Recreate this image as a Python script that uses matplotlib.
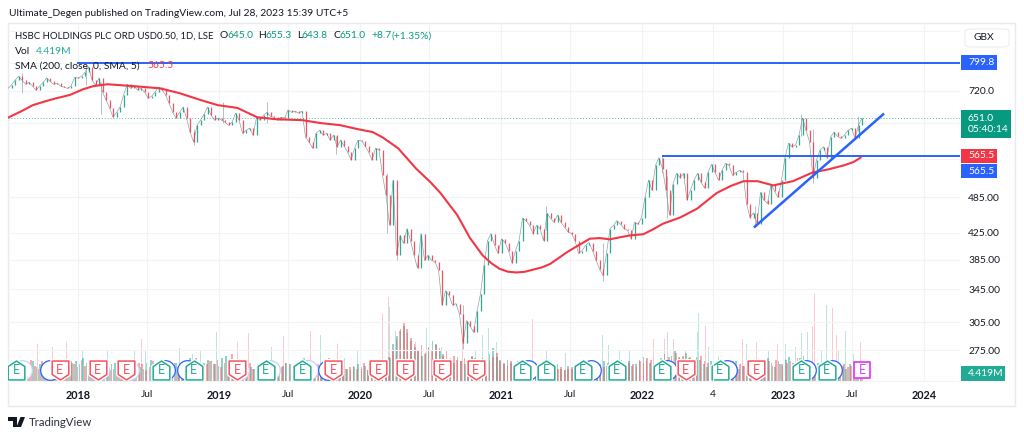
import numpy as np
import matplotlib
matplotlib.use('Agg')
from matplotlib import pyplot as plt
from matplotlib.path import Path
from matplotlib.patches import Rectangle, Polygon, FancyBboxPatch

plt.rcParams['font.family'] = ['Lato', 'DejaVu Sans']

# closes, pence, roughly every 3.5 px
closes = [727, 736, 749, 760, 749, 738, 743, 733, 722, 733, 743, 755, 746, 738, 741, 733, 730, 727, 733, 757, 755, 760, 772, 788, 749, 736, 755,
          717, 696, 676, 653, 665, 678, 709, 738, 727, 733, 722, 727, 717, 701, 706, 717, 730, 722, 709, 688, 665, 651, 665, 678, 651, 618, 596, 634,
          646, 660, 678, 658, 646, 651, 646, 641, 634, 641, 663, 646, 615, 622, 627, 611, 653, 646, 658, 665, 655, 653, 646, 653, 651, 671, 665, 668,
          663, 668, 606, 596, 582, 615, 622, 611, 615, 600, 611, 585, 600,
          587, 574, 557, 582, 600, 598, 587, 574, 557, 582, 578, 526, 489, 437, 517, 391, 421, 409, 432, 413, 391, 373, 424, 384, 391, 384, 381, 370,
          325, 343, 337, 325, 327, 314, 282, 307, 301, 294, 318, 339, 377, 413, 424, 406, 394, 416, 410, 398, 380, 398, 413, 449, 445, 437, 424, 437,
          432, 413, 457, 449, 442, 454, 442, 434, 427, 424, 413, 394, 398, 406, 410, 398, 384, 372, 363, 394, 432, 437, 445, 439, 432, 429, 416, 442,
          439, 450, 485, 517, 498, 546, 562, 539, 498, 454, 510, 530, 522, 530, 480, 498, 517, 530, 513, 502, 532, 548, 532, 517, 536, 550, 546, 526,
          532, 536, 532, 474, 450, 458, 440, 494, 480, 474, 510, 496, 485, 517, 562, 593, 585, 589, 611, 651, 622, 596, 522, 557, 578, 585, 562, 606,
          618, 608, 604, 611, 622, 627, 604, 634, 651]
close_dates = np.linspace(2017.504, 2023.56, len(closes))

wick_dates = [2017.60, 2018.06, 2018.16, 2018.82, 2019.03, 2019.34, 2019.83, 2020.19, 2020.26, 2020.73, 2021.32, 2021.72, 2022.14, 2022.18,
              2022.80, 2023.13, 2023.21, 2023.53]
wick_high = [770, 795, 745, 625, 690, 690, 610, 530, 450, 325, 470, 410, 567, 525, 470, 660, 625, 655]
wick_low = [715, 735, 660, 590, 640, 640, 570, 425, 385, 276, 430, 356, 530, 450, 434, 610, 512, 620]

sma_dates = [2017.51, 2017.60, 2017.68, 2017.77, 2017.85, 2017.94, 2018.04, 2018.11, 2018.21, 2018.39, 2018.58, 2018.72, 2018.87, 2018.99, 2019.13,
             2019.27, 2019.41, 2019.59, 2019.72, 2019.86, 2019.98, 2020.09, 2020.16, 2020.27, 2020.40, 2020.50, 2020.57, 2020.69, 2020.78,
             2020.87, 2020.93, 2020.99, 2021.05, 2021.11, 2021.17, 2021.23, 2021.29, 2021.35, 2021.47, 2021.55, 2021.63, 2021.70, 2021.77,
             2021.91, 2022.01, 2022.08, 2022.15, 2022.27, 2022.39, 2022.53, 2022.63, 2022.72, 2022.82, 2022.93, 2023.07, 2023.21, 2023.32,
             2023.43, 2023.50, 2023.55]
sma_values = [653, 668, 683, 693, 701, 709, 725, 733, 738, 733, 727, 714, 696, 683, 676, 653, 648, 646, 639, 634, 625, 618, 606, 582, 539, 513,
              493, 454, 417, 391, 380, 372, 368, 367, 368, 371, 374, 379, 396, 406, 416, 417, 415, 421, 423, 431, 440, 450, 465, 493, 506, 515, 515,
              507, 515, 532, 538, 546, 553, 562]

# volume in millions, the dense low part, two interleaved colours
vol_green = [8, 10, 12, 9, 11, 14, 12, 14, 10, 12, 9, 11, 13, 10, 10, 12, 15, 11, 13, 14, 12, 16, 13, 10, 11, 14, 12, 9, 10, 12, 13, 11, 8, 10, 12,
             14, 11, 10, 9, 13, 15, 12, 11, 14, 10, 9, 12, 13, 11, 10, 14, 16, 12, 10, 9, 13, 15, 14, 12, 11, 16, 18, 14, 13, 10, 9, 12, 11, 10, 9,
             12, 13, 11, 15, 14, 10, 8, 11, 13, 12, 9, 10, 14, 16, 12, 10, 13, 11, 9, 12, 16, 14, 12, 10, 11, 9, 8, 10, 12, 9, 11, 8, 10, 7, 9, 12,
             14, 16, 26, 31, 36, 38, 33, 28, 24, 22, 18, 20, 24, 28, 26, 21, 19, 15, 16, 13, 17, 14, 12, 15, 18, 16, 13, 15, 12, 19, 23, 17, 14, 12,
             15, 13, 11, 14, 10, 12, 9, 8, 10, 12, 9, 11, 8, 10, 12, 9, 8, 11, 9, 10, 8, 9, 12, 8, 10, 9, 12, 14, 11, 9, 13, 10, 15, 12, 14, 11, 12,
             15, 17, 14, 13, 10, 12, 16, 19, 15, 18, 21, 17, 14, 20, 16, 13, 17, 15, 12, 10, 14, 11, 9, 13, 12, 15, 11, 14, 9, 11, 13, 10, 12, 15,
             14, 12, 16, 13, 10, 14, 12, 15, 17, 13, 11, 16, 18, 15, 12, 10, 13, 11, 9, 12, 8, 10, 13, 11, 9, 12, 10, 8, 7]
vol_red = [9, 12, 8, 13, 10, 12, 15, 11, 9, 14, 11, 8, 10, 13, 12, 9, 11, 14, 12, 10, 15, 11, 9, 13, 10, 12, 14, 11, 8, 9, 11, 14, 10, 12, 9, 11,
           13, 12, 8, 10, 14, 13, 10, 12, 9, 11, 13, 10, 12, 14, 11, 13, 16, 11, 8, 12, 14, 12, 15, 10, 13, 15, 19, 12, 9, 11, 10, 13, 9, 11, 10, 14,
           12, 13, 11, 9, 10, 13, 12, 8, 11, 13, 12, 15, 9, 11, 12, 10, 13, 11, 14, 13, 10, 12, 9, 10, 11, 9, 10, 13, 8, 10, 9, 8, 11, 10, 17, 22,
           29, 35, 40, 36, 30, 26, 21, 25, 19, 23, 21, 25, 23, 18, 22, 13, 18, 15, 14, 16, 13, 17, 15, 14, 16, 12, 14, 17, 20, 15, 13, 11, 14, 12,
           13, 11, 12, 9, 10, 9, 12, 8, 10, 9, 11, 9, 10, 8, 9, 10, 11, 8, 9, 11, 9, 10, 9, 11, 10, 13, 9, 12, 10, 13, 11, 13, 12, 10, 14, 13, 16,
           15, 12, 11, 13, 14, 17, 13, 20, 16, 18, 15, 17, 13, 15, 18, 14, 13, 11, 12, 10, 12, 11, 13, 14, 10, 12, 11, 9, 12, 11, 14, 13, 12, 14,
           11, 15, 12, 11, 13, 14, 13, 16, 12, 14, 15, 13, 11, 12, 10, 12, 10, 11, 9, 10, 12, 10, 11, 10, 9, 8]
green_dates = np.linspace(2017.504, 2023.55, len(vol_green))
red_dates = np.linspace(2017.516, 2023.56, len(vol_red))

spike_dates = [2017.71, 2017.82, 2017.92, 2018.03, 2018.21, 2018.40, 2018.45, 2018.48, 2018.72, 2018.81, 2018.87, 2018.98, 2019.13, 2019.21,
               2019.37, 2019.46, 2019.65, 2019.72, 2019.78, 2019.84, 2019.89, 2019.98, 2020.16, 2020.20, 2020.21, 2020.25, 2020.39, 2020.47,
               2020.58, 2020.73, 2020.82, 2020.87, 2020.91, 2020.97, 2021.22, 2021.32, 2021.46, 2021.72, 2021.76, 2021.84, 2021.91, 2022.08,
               2022.16, 2022.18, 2022.22, 2022.31, 2022.39, 2022.40, 2022.45, 2022.47, 2022.54, 2022.71, 2022.74, 2022.81, 2022.90, 2022.96,
               2023.02, 2023.09, 2023.13, 2023.17, 2023.21, 2023.22, 2023.27, 2023.31, 2023.35, 2023.38, 2023.39, 2023.44, 2023.50, 2023.55]
spike_vol = [26, 24, 27, 22, 21, 22, 29, 22, 23, 19, 22, 34, 27, 33, 24, 31, 35, 32, 27, 26, 16, 22, 46, 58, 51, 35, 27, 37, 24, 29, 22, 32, 37,
             27, 43, 22, 20, 32, 25, 22, 22, 29, 29, 34, 29, 22, 34, 47, 38, 24, 18, 29, 26, 27, 22, 26, 26, 24, 33, 34, 38, 60, 22, 52, 50, 32,
             22, 35, 19, 27]
spike_side = ['r', 'r', 'r', 'g', 'g', 'g', 'r', 'g', 'g', 'g', 'g', 'g', 'r', 'r', 'g', 'r', 'r', 'g', 'g', 'r', 'g', 'g', 'r', 'r', 'g', 'g', 'r',
              'g', 'g', 'r', 'g', 'g', 'g', 'g', 'r', 'g', 'g', 'g', 'g', 'g', 'g', 'r', 'r', 'g', 'r', 'r', 'g', 'g', 'r', 'g', 'g', 'r', 'g', 'r',
              'g', 'r', 'g', 'g', 'g', 'g', 'r', 'r', 'g', 'g', 'r', 'r', 'g', 'g', 'g', 'r']

price_ticks = [900, 800, 720, 640, 560, 485, 425, 385, 345, 305, 275, 245]
price_labels = ['', '', '720.0', '', '', '485.00', '425.00', '385.00', '345.00', '305.00', '275.00', '']
time_ticks = [2018, 2018.49, 2019, 2019.49, 2020, 2020.49, 2021, 2021.49, 2022, 2022.5, 2023, 2023.49, 2024]
time_labels = ['2018', 'Jul', '2019', 'Jul', '2020', 'Jul', '2021', 'Jul', '2022', '4', '2023', 'Jul', '2024']

earn_green = [2017.56, 2018.59, 2018.82, 2019.33, 2019.59, 2021.15, 2021.32, 2021.58, 2021.82, 2022.14, 2022.55, 2023.13, 2023.31]
earn_red = [2017.87, 2018.14, 2018.34, 2019.13, 2019.81, 2020.13, 2020.32, 2020.58, 2020.82, 2022.31, 2022.81]
earn_blue = [2017.80, 2018.62, 2018.77, 2019.77, 2021.19, 2021.64, 2022.18, 2022.60, 2023.16, 2023.35]
earn_blue_faint = [2017.60, 2018.15, 2018.36, 2019.14, 2019.36, 2019.63]
earn_div = [2023.56]

UP = '#089981'
DOWN = '#F23645'
BLUE = '#2962FF'
MARK_GREEN = '#22AB94'
MARK_RED = '#F7525F'
GRID = '#F2F3F6'
DARK = '#131722'
FS = 7.4

W, H = 1024, 437
fig = plt.figure(figsize=(W / 100, H / 100), dpi=100, facecolor='white')


def px(x, y):
    return x / W, 1 - y / H


left, right, top, bottom = 8, 960, 23, 382
rect = [left / W, 1 - bottom / H, (right - left) / W, (bottom - top) / H]

# volume underneath, own scale
axv = fig.add_axes(rect, zorder=1)
axv.set_xlim(2017.5035, 2024.255)
axv.set_ylim(0, 244)
axv.axis('off')

ax = fig.add_axes(rect, zorder=2)
ax.patch.set_alpha(0)
ax.set_yscale('log')
ax.set_xlim(2017.5035, 2024.255)
ax.set_ylim(244.4, 926.4)
ax.minorticks_off()
ax.yaxis.tick_right()
ax.set_yticks(price_ticks)
ax.set_yticklabels(price_labels, fontsize=FS, color=DARK)
ax.set_xticks(time_ticks)
ax.set_xticklabels(time_labels, fontsize=FS, color=DARK)
for lab, txt in zip(ax.get_xticklabels(), time_labels):
    if txt.startswith('20'):
        lab.set_fontweight('bold')
        lab.set_fontsize(7.8)
ax.tick_params(axis='both', length=0)
ax.tick_params(axis='y', pad=6)
ax.tick_params(axis='x', pad=5.5)
ax.grid(True, color=GRID, lw=0.8)
ax.set_axisbelow(True)
for s in ax.spines.values():
    s.set_visible(False)

# volume bars
closes_arr = np.array(closes, dtype=float)
opens = np.r_[closes_arr[0], closes_arr[:-1]]
step = close_dates[1] - close_dates[0]
axv.bar(green_dates, vol_green, width=step / 2, color=MARK_GREEN, alpha=0.5, lw=0)
axv.bar(red_dates, vol_red, width=step / 2, color=MARK_RED, alpha=0.5, lw=0)
spike_cols = [MARK_GREEN if c == 'g' else MARK_RED for c in spike_side]
axv.bar(spike_dates, spike_vol, width=0.007, color=spike_cols, alpha=0.3, lw=0)

# earnings markers along the bottom
house = Path([(-0.88, -1), (0.88, -1), (0.88, 0.42), (0, 1), (-0.88, 0.42), (-0.88, -1)], closed=True)
shield = Path([(-0.88, 1), (0.88, 1), (0.88, -0.42), (0, -1), (-0.88, -0.42), (-0.88, 1)], closed=True)
my = 8
axv.scatter(earn_blue_faint, [my] * len(earn_blue_faint), s=200, marker='o', facecolor='white', edgecolor='#C4D3FD', lw=0.9, zorder=3)
axv.scatter(earn_blue, [my] * len(earn_blue), s=200, marker='o', facecolor='white', edgecolor=BLUE, lw=0.9, zorder=3)
for dates, marker, col in [(earn_green, house, MARK_GREEN), (earn_red, shield, MARK_RED)]:
    axv.scatter(dates, [my] * len(dates), s=185, marker=marker, facecolor='white', edgecolor='white', lw=3, zorder=4)
    axv.scatter(dates, [my] * len(dates), s=185, marker=marker, facecolor='white', edgecolor=col, lw=1.1, zorder=5)
    for d in dates:
        axv.text(d, my, 'E', color=col, fontsize=9, ha='center', va='center', zorder=6)
axv.scatter(earn_div, [my], s=125, marker='s', facecolor='white', edgecolor='#E040FB', lw=1.3, zorder=5)
axv.text(earn_div[0], my, 'E', color='#E040FB', fontsize=9, ha='center', va='center', zorder=6)

# candles, thin line keeps the small bars joined
cols = [UP if c >= o else DOWN for o, c in zip(opens, closes_arr)]
ax.plot(close_dates, closes_arr, color='#5d6b70', lw=0.45, alpha=0.7, zorder=2)
ax.vlines(wick_dates, wick_low, wick_high, color='#7f8f95', lw=0.5, alpha=0.8, zorder=2)
ax.vlines(close_dates, opens, closes_arr, colors=cols, lw=0.9, alpha=0.85, zorder=3)

ax.axhline(651.0, color=UP, lw=0.7, ls=(0, (1, 2)), alpha=0.7, zorder=2)
ax.plot(sma_dates, sma_values, color=DOWN, lw=1.5, solid_joinstyle='round', zorder=4)

ax.plot([2017.99, 2024.255], [799.8, 799.8], color=BLUE, lw=1.4, zorder=5, solid_capstyle='butt')
ax.plot([2022.14, 2024.255], [565.5, 565.5], color=BLUE, lw=1.4, zorder=5, solid_capstyle='butt')
ax.plot([2022.80, 2023.71], [435, 660], color=BLUE, lw=1.8, zorder=5)

# price scale labels, boxes sized in pixels around the price level
ytr = ax.get_yaxis_transform()
pane_w = right - left
px_per_log = 269.0


def scale_box(price, y_up, y_down, width, col, lines):
    lo = price * np.exp(-y_down / px_per_log)
    hi = price * np.exp(y_up / px_per_log)
    ax.add_patch(Rectangle((1 + 1 / pane_w, lo), width / pane_w, hi - lo, transform=ytr, fc=col, ec='none', clip_on=False, zorder=15))
    ymid = price * np.exp((y_up - y_down) / 2 / px_per_log)
    ax.text(1 + 8 / pane_w, ymid, lines, transform=ytr, fontsize=FS, color='white', va='center', ha='left', linespacing=1.25, zorder=16, clip_on=False)


scale_box(799.8, 7.5, 7.5, 36, BLUE, '799.8')
scale_box(651.0, 8, 20, 50, UP, '651.0\n05:40:14')
scale_box(565.5, 7, 7, 36, DOWN, '565.5')
scale_box(565.5, -8, 22, 36, BLUE, '565.5')
scale_box(245.5, 14.5, 0, 44, MARK_GREEN, '4.419M')

# frame around the chart
fr_x, fr_y = px(8, 406)
fr_x2, fr_y2 = px(1015, 23)
fig.add_artist(Rectangle((fr_x, fr_y), fr_x2 - fr_x, fr_y2 - fr_y, transform=fig.transFigure, fill=False, ec='#E8EAEF', lw=1))

gx, gy = px(965, 47)
gx2, gy2 = px(1009, 29)
fig.add_artist(FancyBboxPatch((gx, gy), gx2 - gx, gy2 - gy, boxstyle='round,pad=0,rounding_size=0.006', transform=fig.transFigure,
                              fc='white', ec='#ECEEF2', lw=0.8))
fig.text(*px(973, 38), 'GBX', fontsize=FS, color=DARK, va='center')


def legend_run(y, parts, size=FS):
    for x, txt, col in parts:
        fig.text(*px(x, y), txt, fontsize=size, color=col, va='center')


fig.text(*px(9, 13), 'Ultimate_Degen published on TradingView.com, Jul 28, 2023 15:39 UTC+5', fontsize=FS, color=DARK, va='center')
legend_run(36, [(15, 'HSBC HOLDINGS PLC ORD USD0.50, 1D, LSE', DARK)], size=6.9)
legend_run(36, [(220, 'O', DARK), (227, '645.0', UP), (258, 'H', DARK), (265, '655.3', UP),
                (297, 'L', DARK), (302, '643.8', UP), (333, 'C', DARK), (340, '651.0', UP), (371, '+8.7', UP), (391, '(+1.35%)', UP)])
legend_run(51, [(15, 'Vol', DARK), (36, '4.419M', MARK_GREEN)])
legend_run(66, [(15, 'SMA (200, close, 0, SMA, 5)', DARK), (147, '565.5', DOWN)])

# logo and wordmark at the foot
logo_t = Polygon([px(8, 417), px(17, 417), px(17, 427), px(12.5, 427), px(12.5, 421), px(8, 421)], transform=fig.transFigure, fc=DARK, ec='none')
logo_v = Polygon([px(20.5, 417), px(25, 417), px(21, 427), px(16.5, 427)], transform=fig.transFigure, fc=DARK, ec='none')
fig.add_artist(logo_t)
fig.add_artist(logo_v)
fig.text(*px(29, 422.5), 'TradingView', fontsize=8.2, color='#2A2E39', va='center')

fig.savefig('out.png', dpi=100)
